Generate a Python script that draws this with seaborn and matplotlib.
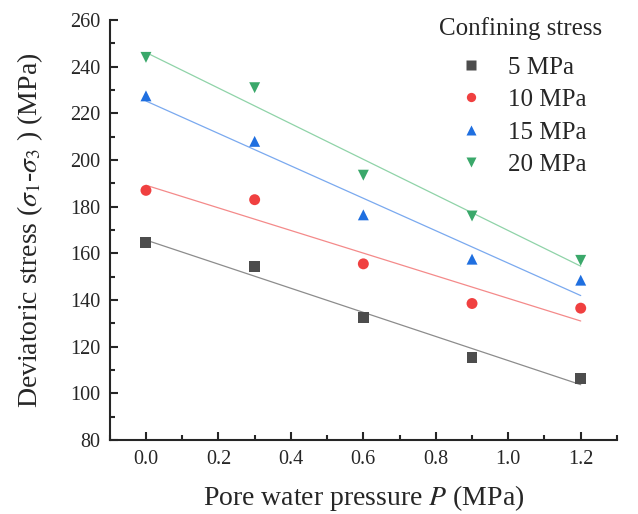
import numpy as np
import pandas as pd
import seaborn as sns
import matplotlib.pyplot as plt
from matplotlib.ticker import MultipleLocator

# data
pressure = [0.0, 0.3, 0.6, 0.9, 1.2]
s5 = [164.5, 154.5, 132.5, 115.5, 106.5]
s10 = [187.0, 183.0, 155.5, 138.5, 136.5]
s15 = [227.5, 208.0, 176.5, 157.5, 148.5]
s20 = [244.0, 231.0, 193.5, 176.0, 157.0]
groups = ['5 MPa', '10 MPa', '15 MPa', '20 MPa']

df = pd.DataFrame({
    'P': pressure * 4,
    'q': s5 + s10 + s15 + s20,
    'Confining stress': np.repeat(groups, len(pressure)),
})

sns.set_style('ticks')
plt.rcParams['font.family'] = ['Liberation Serif', 'DejaVu Serif']
plt.rcParams['mathtext.fontset'] = 'stix'

marker_colors = ['#4d4d4d', '#f04040', '#1f6fe0', '#3aa86a']
line_colors = ['#8c8c8c', '#f48a8a', '#7aa9ef', '#8fd3a8']
markers = ['s', 'o', '^', 'v']

fig = plt.figure(figsize=(6.38, 5.14), dpi=100)
ax = fig.add_axes([0.172, 0.144, 0.795, 0.817])

# fit lines
for g, lc in zip(groups, line_colors):
    sns.regplot(data=df[df['Confining stress'] == g], x='P', y='q',
                scatter=False, ci=None, ax=ax,
                line_kws={'color': lc, 'lw': 0.9})

# points
sns.scatterplot(data=df, x='P', y='q', hue='Confining stress',
                style='Confining stress', palette=marker_colors,
                markers=markers, s=62, edgecolor='none', ax=ax, zorder=3)

ax.set_xlim(-0.1, 1.3)
ax.set_ylim(80, 260)
ax.xaxis.set_major_locator(MultipleLocator(0.2))
ax.xaxis.set_minor_locator(MultipleLocator(0.1))
ax.yaxis.set_major_locator(MultipleLocator(20))
ax.yaxis.set_minor_locator(MultipleLocator(10))
ax.xaxis.set_major_formatter(plt.FuncFormatter(lambda v, p: f'{v:.1f}'))
ax.tick_params(which='major', direction='in', length=6, width=1.5,
               labelsize=14.5, pad=7)
ax.tick_params(which='minor', direction='in', length=3.5, width=1.5)
sns.despine(ax=ax)
for sp in ['left', 'bottom']:
    ax.spines[sp].set_linewidth(1.5)

ax.set_xlabel('Pore water pressure $P$ (MPa)', fontsize=20, labelpad=10)
ax.set_ylabel(r'Deviatoric stress ($\sigma_1$-$\sigma_3$ ) (MPa)', fontsize=20, labelpad=18)

# legend with separate title text
leg = ax.legend(frameon=False, fontsize=18, loc='upper right', markerscale=0.85,
                bbox_to_anchor=(0.97, 0.95), handletextpad=0.5,
                labelspacing=0.4, borderaxespad=0.2)
ax.text(0.81, 0.981, 'Confining stress', transform=ax.transAxes,
        ha='center', va='center', fontsize=18)

fig.savefig('out.png', dpi=100)
